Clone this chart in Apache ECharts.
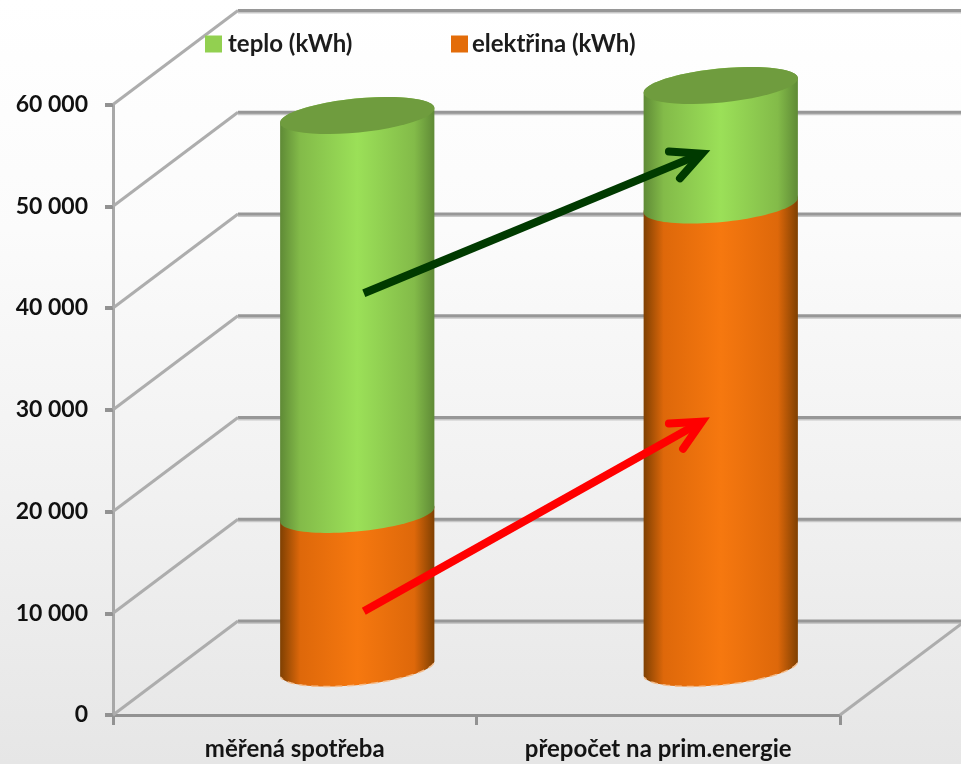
<!DOCTYPE html>
<html>
<head>
<meta charset="utf-8">
<style>html,body{margin:0;padding:0;background:#fff}#c{width:961px;height:764px}</style>
<script src="https://cdn.jsdelivr.net/npm/echarts@6/dist/echarts.min.js"></script>
</head>
<body>
<div id="c"></div>
<script>
// Energy use: measured consumption versus the primary-energy conversion
const categories = ['měřená spotřeba', 'přepočet na prim.energie'];
const elektrinaName = 'elektřina (kWh)';
const teploName = 'teplo (kWh)';
const elektrina = [15100, 45500];
const teplo = [39200, 11750];
const yTicks = [0, 10000, 20000, 30000, 40000, 50000, 60000];

// Arrows between the columns: x in category units along the front plane, y in kWh
const arrowGreen = { from: [0.19, 41450], to: [1.12, 55170], color: '#003a00' };
const arrowRed = { from: [0.19, 10200], to: [1.12, 28830], color: '#ff0000' };

// Fake 3D projection: the depth of the floor, and the tilted ellipse of a column
const DEPTH_X = 125, DEPTH_Y = -94;
const RX = 77.5, RY = 17, TILT = -5.6 * Math.PI / 180;

function ellipsePoint(cx, cy, t) {
  const ex = RX * Math.cos(t), ey = RY * Math.sin(t);
  return [cx + ex * Math.cos(TILT) - ey * Math.sin(TILT),
          cy + ex * Math.sin(TILT) + ey * Math.cos(TILT)];
}
function arc(cx, cy, from, to) {
  const pts = [], n = 48;
  for (let i = 0; i <= n; i++) pts.push(ellipsePoint(cx, cy, from + (to - from) * i / n));
  return pts;
}
function sideFill(dark, mid, peak) {
  return {
    type: 'linear', x: 0, y: 0, x2: 1, y2: 0,
    colorStops: [
      { offset: 0, color: dark }, { offset: 0.13, color: mid }, { offset: 0.5, color: peak },
      { offset: 0.87, color: mid }, { offset: 1, color: dark }
    ]
  };
}

// One stacked column segment; its centre sits halfway into the floor depth
function columnSegment(fill, isTop) {
  return function (params, api) {
    const base = api.coord([api.value(0), api.value(1)]);
    const top = api.coord([api.value(0), api.value(2)]);
    const cx = base[0] + DEPTH_X / 2;
    const y0 = base[1] + DEPTH_Y / 2;
    const y1 = top[1] + DEPTH_Y / 2;
    const side = arc(cx, y0, 0, Math.PI).concat(arc(cx, y1, Math.PI, 2 * Math.PI));
    const children = [{ type: 'polygon', shape: { points: side }, style: { fill: fill } }];
    if (isTop) {
      children.push({
        type: 'polygon',
        shape: { points: arc(cx, y1, 0, 2 * Math.PI) },
        style: { fill: '#6f9c3e' }
      });
    } else {
      // Pale dotted rim along the foot of the column
      children.push({
        type: 'polyline',
        shape: { points: arc(cx, y0, 0.15, Math.PI - 0.1) },
        style: { stroke: '#f5bd8c', lineWidth: 1.5, lineDash: [7, 5], fill: null }
      });
    }
    return { type: 'group', children: children };
  };
}

// Back wall and side wall lines for every tick, plus the floor edge on the right
function wallLine(params, api) {
  const g = params.coordSys;
  const y = api.coord([0, api.value(1)])[1];
  const left = g.x, right = g.x + g.width;
  const lineStyle = function (color, w) { return { stroke: color, lineWidth: w, fill: null }; };
  const children = [
    { type: 'line', shape: { x1: left + DEPTH_X, y1: y + DEPTH_Y + 1.5, x2: right + DEPTH_X, y2: y + DEPTH_Y + 1.5 }, style: lineStyle('#c8c8c8', 3) },
    { type: 'line', shape: { x1: left + DEPTH_X, y1: y + DEPTH_Y, x2: right + DEPTH_X, y2: y + DEPTH_Y }, style: lineStyle('#979797', 3) },
    { type: 'line', shape: { x1: left, y1: y, x2: left + DEPTH_X, y2: y + DEPTH_Y }, style: lineStyle('#adadad', 3) }
  ];
  if (api.value(1) === 0) {
    children.push({ type: 'line', shape: { x1: right, y1: y, x2: right + DEPTH_X, y2: y + DEPTH_Y }, style: lineStyle('#adadad', 3) });
  }
  return { type: 'group', children: children };
}

function arrowItem(params, api) {
  const a = api.value(0) === 0 ? arrowGreen : arrowRed;
  const c0 = api.coord([0, 0]), c1 = api.coord([1, 0]);
  const px = function (p) {
    return [c0[0] + (c1[0] - c0[0]) * p[0], api.coord([0, p[1]])[1]];
  };
  const s = px(a.from), e = px(a.to);
  const ang = Math.atan2(s[1] - e[1], s[0] - e[0]);
  const spread = 26 * Math.PI / 180, len = 33;
  const b1 = [e[0] + len * Math.cos(ang + spread), e[1] + len * Math.sin(ang + spread)];
  const b2 = [e[0] + len * Math.cos(ang - spread), e[1] + len * Math.sin(ang - spread)];
  const shaftEnd = [e[0] + 4 * Math.cos(ang), e[1] + 4 * Math.sin(ang)];
  return {
    type: 'group',
    children: [
      { type: 'line', shape: { x1: s[0], y1: s[1], x2: shaftEnd[0], y2: shaftEnd[1] }, style: { stroke: a.color, lineWidth: 8, fill: null } },
      { type: 'polyline', shape: { points: [b1, e, b2] }, style: { stroke: a.color, lineWidth: 8, fill: null, lineCap: 'round', lineJoin: 'miter', miterLimit: 10 } }
    ]
  };
}

const FONT = 'Lato';
const elektrinaRows = elektrina.map((v, i) => [i, 0, v]);
const teploRows = teplo.map((v, i) => [i, elektrina[i], elektrina[i] + v]);

const option = {
  animation: false,
  backgroundColor: {
    type: 'linear', x: 0, y: 0, x2: 0, y2: 1,
    colorStops: [
      { offset: 0, color: '#ffffff' }, { offset: 0.3, color: '#fbfbfb' },
      { offset: 0.65, color: '#f1f1f1' }, { offset: 1, color: '#e6e6e6' }
    ]
  },
  legend: [
    {
      data: [{ name: teploName, icon: 'rect' }], left: 205, top: 32, padding: 0, itemWidth: 17, itemHeight: 17, itemGap: 6,
      textStyle: { fontFamily: FONT, fontSize: 24, fontWeight: 'bold', color: '#1c1c1c', padding: [0, 0, 0, 1] }
    },
    {
      data: [{ name: elektrinaName, icon: 'rect' }], left: 451, top: 32, padding: 0, itemWidth: 17, itemHeight: 17, itemGap: 4,
      textStyle: { fontFamily: FONT, fontSize: 24, fontWeight: 'bold', color: '#1c1c1c', padding: [0, 0, 0, -1] }
    }
  ],
  grid: { left: 113, right: 121, top: 104.5, bottom: 49 },
  xAxis: {
    type: 'category',
    data: categories,
    axisLine: { lineStyle: { color: '#929292', width: 3 } },
    axisTick: { show: true, length: 10, lineStyle: { color: '#929292', width: 3 } },
    axisLabel: { margin: 22, fontFamily: FONT, fontSize: 24, fontWeight: 'bold', color: '#141414' }
  },
  yAxis: {
    type: 'value',
    min: 0, max: 60000, interval: 10000,
    splitLine: { show: false },
    axisLine: { show: true, lineStyle: { color: '#a8a8a8', width: 3 } },
    axisTick: { show: true, length: 8, lineStyle: { color: '#929292', width: 4 } },
    axisLabel: {
      margin: 25, fontFamily: FONT, fontSize: 23, fontWeight: 'bold', color: '#111111',
      formatter: function (v) { return String(v).replace(/\B(?=(\d{3})+$)/g, ' '); }
    }
  },
  series: [
    { type: 'custom', name: 'walls', silent: true, clip: false, renderItem: wallLine, data: yTicks.map(v => [0, v]), z: 1 },
    {
      type: 'custom', name: elektrinaName, clip: false, z: 2,
      itemStyle: { color: '#e36c09' },
      renderItem: columnSegment(sideFill('#7f4002', '#de680a', '#f6780f'), false),
      data: elektrinaRows, encode: { x: 0, y: 2 }
    },
    {
      type: 'custom', name: teploName, clip: false, z: 3,
      itemStyle: { color: '#92d050' },
      renderItem: columnSegment(sideFill('#5f8a36', '#83bb49', '#9be058'), true),
      data: teploRows, encode: { x: 0, y: 2 }
    },
    { type: 'custom', name: 'arrows', silent: true, clip: false, renderItem: arrowItem, data: [[0, 0], [1, 0]], z: 4 }
  ]
};
echarts.init(document.getElementById('c')).setOption(option);
</script>
</body>
</html>
